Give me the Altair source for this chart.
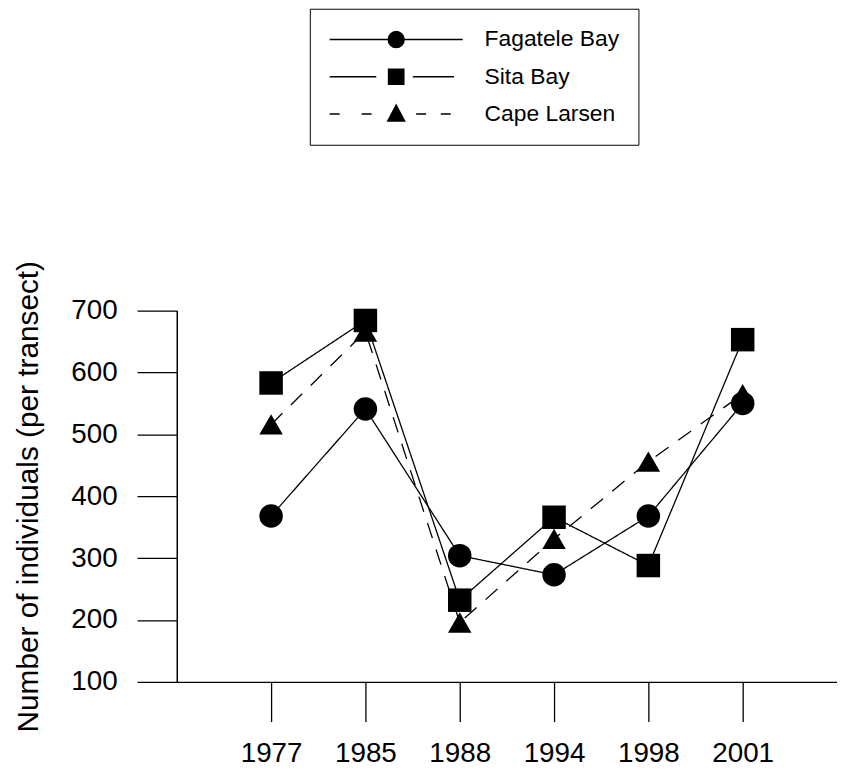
import altair as alt
import pandas as pd

# ---- data ----
years = ["1977", "1985", "1988", "1994", "1998", "2001"]
series_names = ["Fagatele Bay", "Sita Bay", "Cape Larsen"]
fagatele_bay = [368, 541, 304, 273, 368, 550]
sita_bay = [583, 684, 232, 366, 288, 653]
cape_larsen = [516, 666, 196, 331, 456, 565]
y_ticks = [100, 200, 300, 400, 500, 600, 700]

values_by_series = {
    "Fagatele Bay": fagatele_bay,
    "Sita Bay": sita_bay,
    "Cape Larsen": cape_larsen,
}

# draw order: triangles first, squares on top
draw_order = ["Cape Larsen", "Fagatele Bay", "Sita Bay"]
rows = []
for name in draw_order:
    for yr, v in zip(years, values_by_series[name]):
        rows.append({"Year": yr, "Site": name, "Count": v})
df = pd.DataFrame(rows)

FONT = "Liberation Sans"

# legend symbols: line + marker, in unit coordinates (scaled by sqrt(size)/2)
p_fag = "M-1,0H1M-0.12,0A0.12,0.12,0,1,1,0.12,0A0.12,0.12,0,1,1,-0.12,0Z"
p_sita = "M-1,0H-0.3M0.25,0H0.87M-0.115,-0.115H0.115V0.115H-0.115Z"
p_cape = ("M-1,0H-0.85M-0.52,0H-0.37M0.3,0H0.45M0.67,0H0.82"
          "M0,-0.135L0.127,0.105L-0.127,0.105Z")

x_enc = alt.X(
    "Year:O",
    scale=alt.Scale(type="point", domain=years, padding=1),
    axis=alt.Axis(title=None, labelAngle=0, tickSize=40, labelPadding=18,
                  labelFontSize=28),
)
y_enc = alt.Y(
    "Count:Q",
    scale=alt.Scale(domain=[100, 700], nice=False, zero=False),
    axis=alt.Axis(values=y_ticks, title="Number of individuals (per transect)",
                  tickSize=40, labelPadding=20, labelFontSize=28,
                  titleFontSize=30, titleFontWeight="normal", titlePadding=28),
)

lines = alt.Chart(df).mark_line(color="black", strokeWidth=1.3).encode(
    x=x_enc,
    y=y_enc,
    detail="Site:N",
    strokeDash=alt.StrokeDash(
        "Site:N",
        scale=alt.Scale(domain=series_names, range=[[1, 0], [1, 0], [16, 12]]),
        legend=None,
    ),
)

points = alt.Chart(df).mark_point(filled=True, fill="black", opacity=1).encode(
    x=x_enc,
    y=y_enc,
    shape=alt.Shape(
        "Site:N",
        scale=alt.Scale(domain=series_names, range=["circle", "square", "triangle-up"]),
        legend=None,
    ),
    size=alt.Size(
        "Site:N",
        scale=alt.Scale(domain=series_names, range=[560, 560, 440]),
        legend=None,
    ),
)

# legend-only layer (no marks drawn): custom line+marker symbols
legend_layer = (
    alt.Chart(df)
    .transform_filter("false")
    .mark_point(filled=False, color="black", fill="black", stroke="black")
    .encode(
        x=x_enc,
        y=y_enc,
        shape=alt.Shape(
            "Site:N",
            scale=alt.Scale(domain=series_names, range=[p_fag, p_sita, p_cape]),
            legend=alt.Legend(
                title=None,
                orient="none",
                legendX=134,
                legendY=-304,
                direction="vertical",
                strokeColor="black",
                padding=19,
                labelFont=FONT,
                labelFontSize=23,
                labelColor="black",
                labelOffset=21,
                rowPadding=13.5,
                clipHeight=24,
                symbolSize=17956,
                symbolStrokeWidth=1.4,
                symbolOpacity=1,
            ),
        ),
    )
)

chart = (
    alt.layer(lines, points, legend_layer)
    .resolve_scale(shape="independent")
    .properties(
        width=665,
        height=374,
        autosize=alt.AutoSizeParams(type="none"),
        padding={"left": 170, "top": 302, "right": 0, "bottom": 86},
    )
    .configure_view(stroke=None)
    .configure_axis(
        domainColor="black",
        tickColor="black",
        labelColor="black",
        titleColor="black",
        labelFont=FONT,
        titleFont=FONT,
        grid=False,
        domainWidth=1.5,
        tickWidth=1.3,
    )
)

chart.save("out.html", embed_options={"renderer": "svg", "actions": False})
